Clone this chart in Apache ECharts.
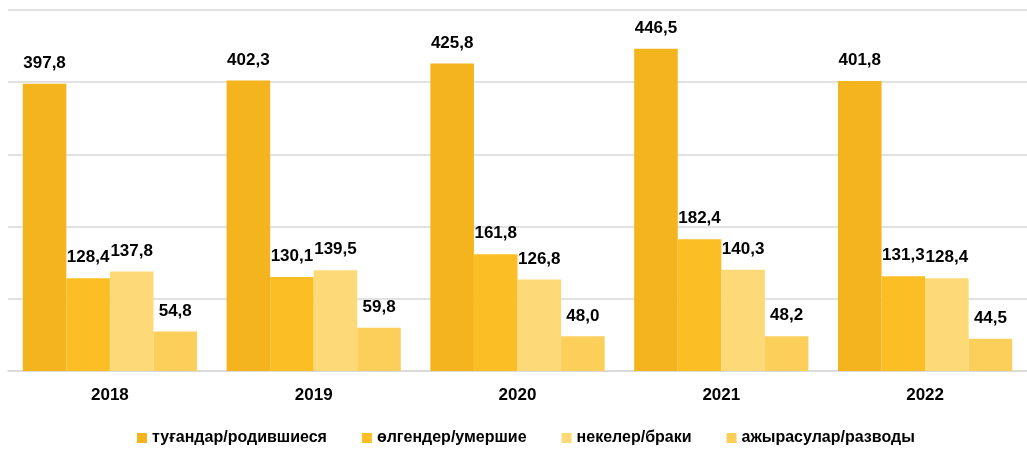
<!DOCTYPE html>
<html>
<head>
<meta charset="utf-8">
<script src="https://cdn.jsdelivr.net/npm/echarts@6/dist/echarts.min.js"></script>
<style>
html,body{margin:0;padding:0;background:#fff;}
#chart{width:1027px;height:451px;}
</style>
</head>
<body>
<div id="chart"></div>
<script>
const years = ['2018', '2019', '2020', '2021', '2022'];
const seriesNames = ['туғандар/родившиеся', 'өлгендер/умершие', 'некелер/браки', 'ажырасулар/разводы'];
const born = [397.8, 402.3, 425.8, 446.5, 401.8];
const died = [128.4, 130.1, 161.8, 182.4, 131.3];
const marriages = [137.8, 139.5, 126.8, 140.3, 128.4];
const divorces = [54.8, 59.8, 48.0, 48.2, 44.5];
const colors = ['#F4B41D', '#FBBE25', '#FDD977', '#FCCF5B'];

const font = '"Liberation Sans", Arial, sans-serif';
const dataSets = [born, died, marriages, divorces];

const chart = echarts.init(document.getElementById('chart'));
chart.setOption({
  animation: false,
  backgroundColor: '#ffffff',
  color: colors,
  grid: { left: 8, right: -6, top: 10, bottom: 80, containLabel: false },
  legend: {
    top: 430,
    left: 137,
    padding: 0,
    itemWidth: 10,
    itemHeight: 10,
    itemGap: 35,
    icon: 'rect',
    textStyle: { fontFamily: font, fontSize: 16, fontWeight: 'bold', color: '#000' },
    data: seriesNames
  },
  xAxis: {
    type: 'category',
    data: years,
    axisLine: { lineStyle: { color: '#d9d9d9', width: 1.5 } },
    axisTick: { show: false },
    axisLabel: { fontFamily: font, fontSize: 17, fontWeight: 'bold', color: '#000', margin: 16 }
  },
  yAxis: {
    type: 'value',
    min: 0,
    max: 500,
    interval: 100,
    axisLabel: { show: false },
    axisLine: { show: false },
    axisTick: { show: false },
    splitLine: { lineStyle: { color: '#d9d9d9', width: 1.5 } }
  },
  series: dataSets.map((d, i) => ({
    name: seriesNames[i],
    type: 'bar',
    data: d,
    barGap: '0%',
    barCategoryGap: '14.5%',
    itemStyle: { color: colors[i] },
    label: {
      show: true,
      position: 'top',
      distance: 12,
      fontFamily: font,
      fontSize: 17,
      fontWeight: 'bold',
      color: '#000',
      formatter: p => p.value.toFixed(1).replace('.', ',')
    }
  }))
});
</script>
</body>
</html>
